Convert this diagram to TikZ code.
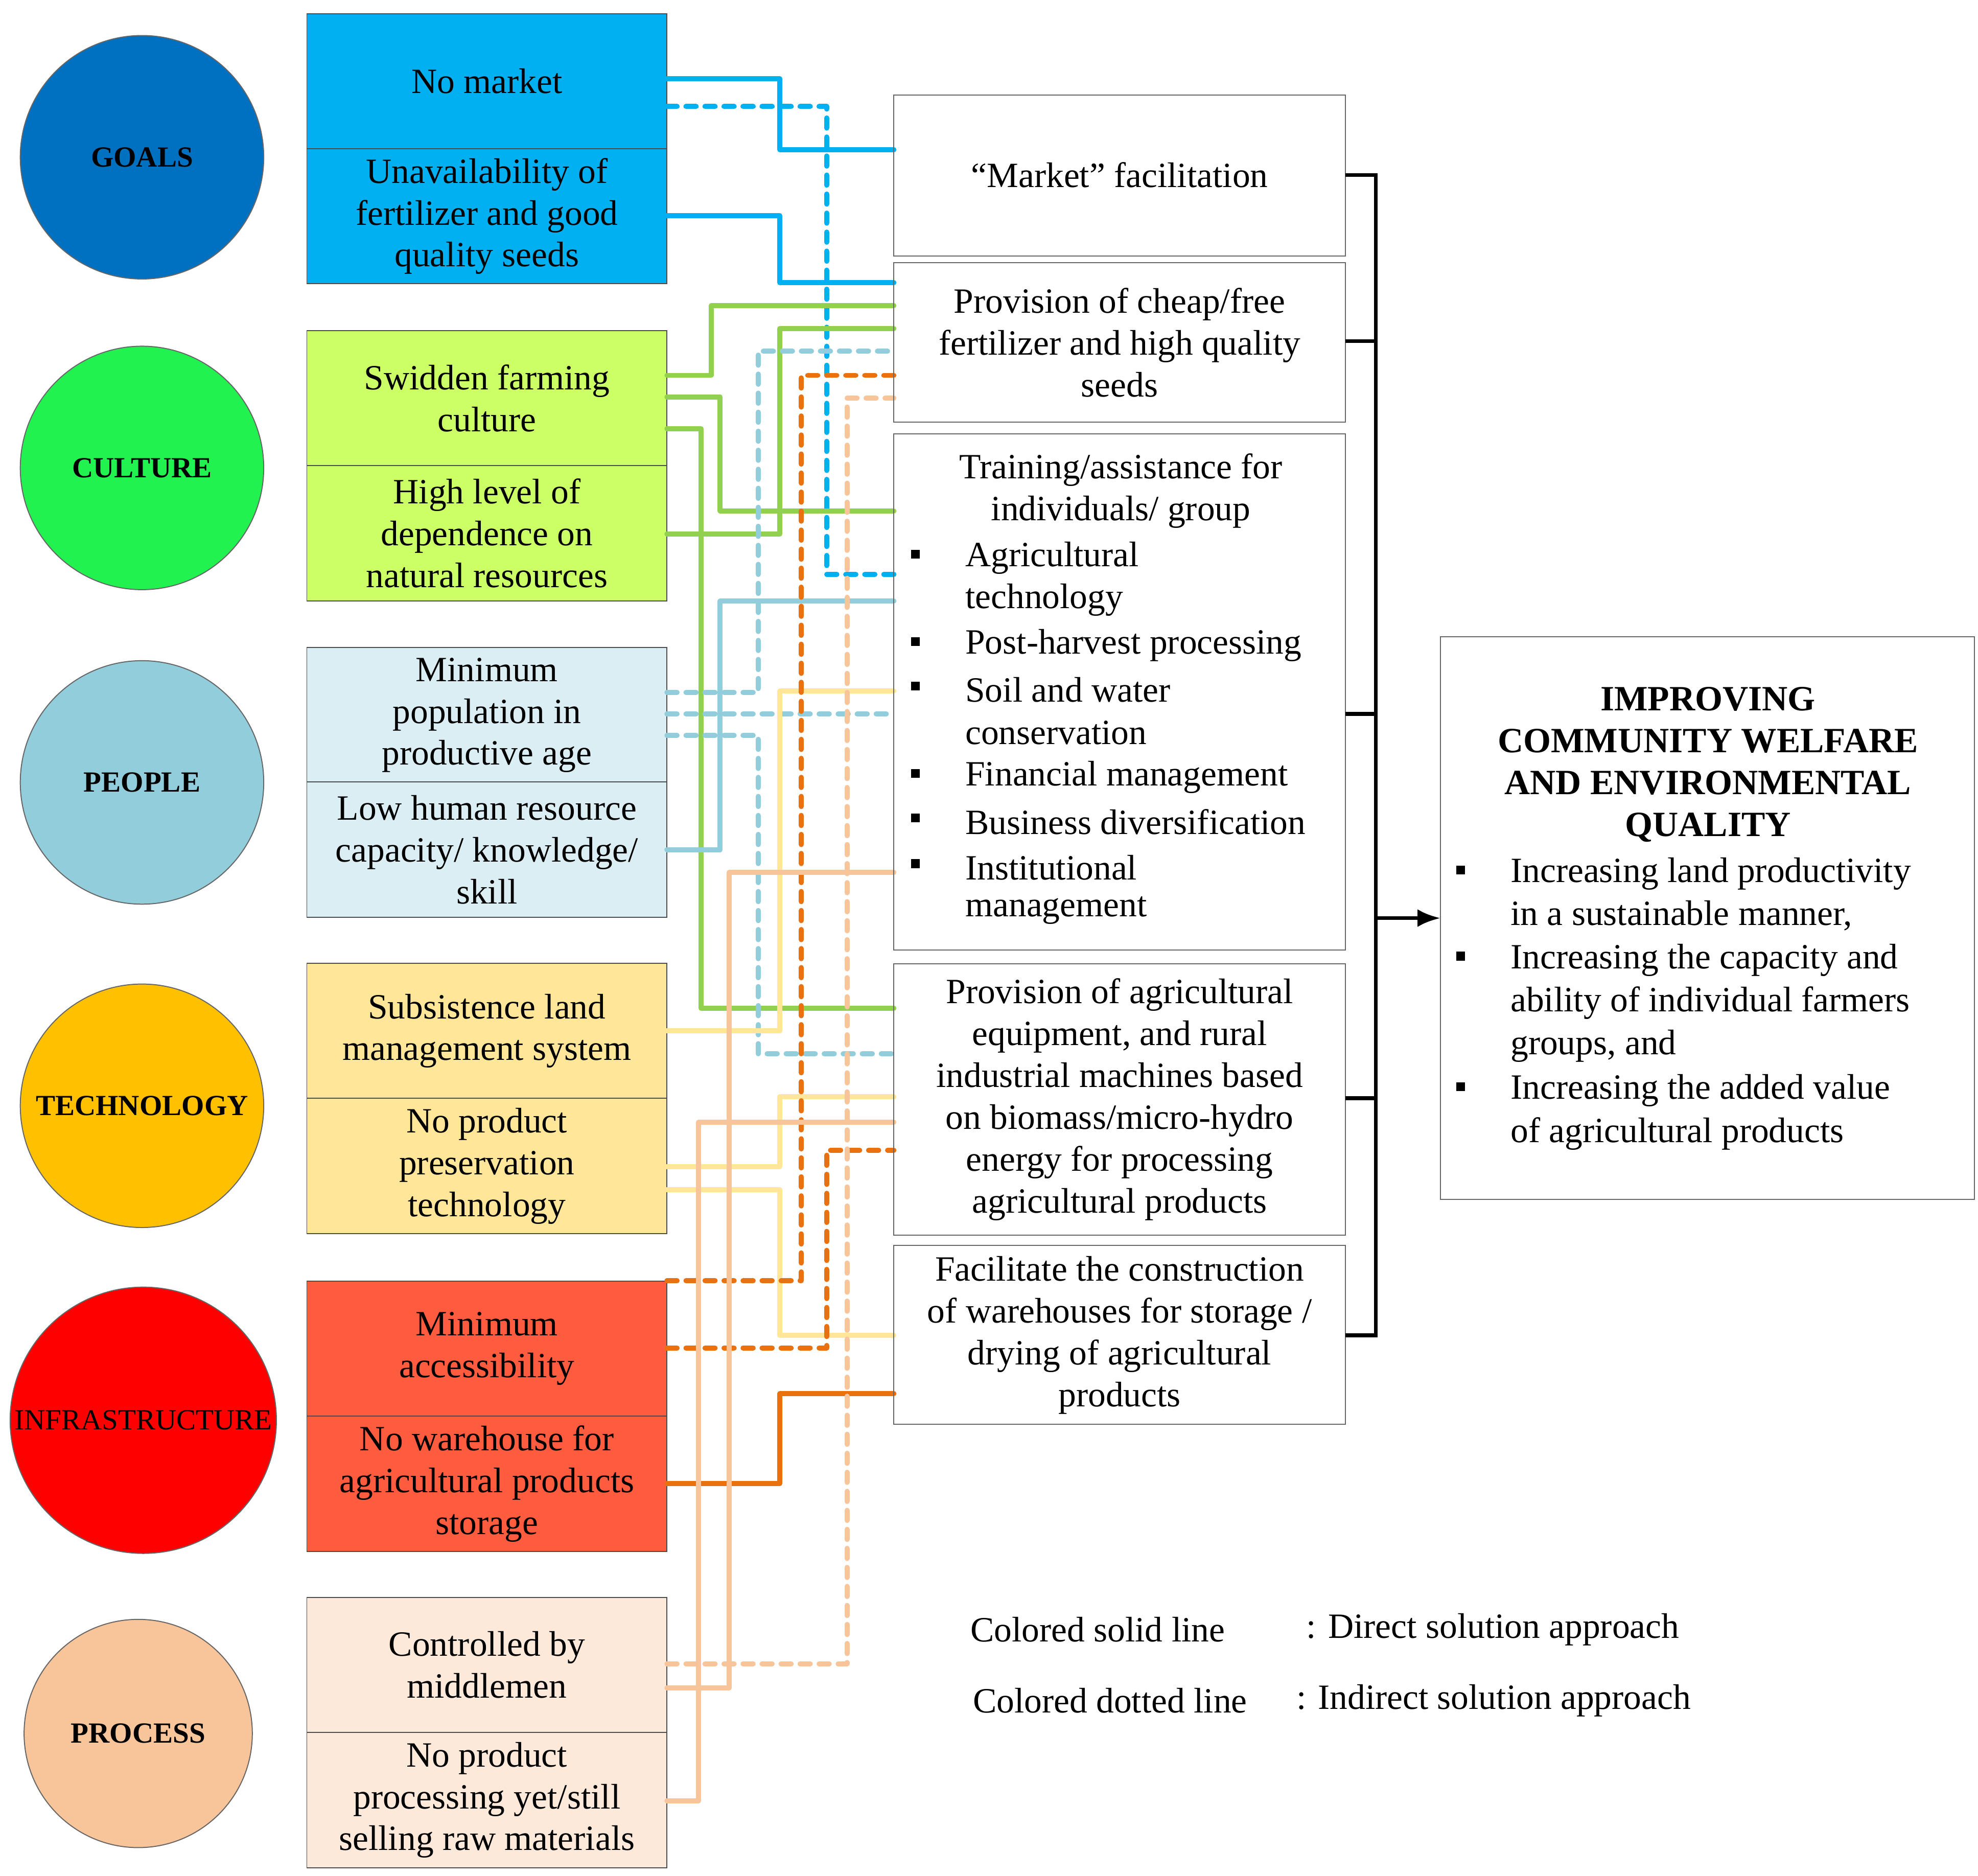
\documentclass[tikz,border=0pt]{standalone}
\usepackage{fontspec}
\setmainfont{Liberation Serif}
\usetikzlibrary{arrows.meta}
\begin{document}
\begin{tikzpicture}[x=0.5pt,y=-0.5pt,
 every node/.style={font=\fontsize{14}{16.5}\selectfont},
 lbox/.style={draw=black!70,line width=0.4pt,minimum width=142pt,minimum height=53.3pt,align=center,inner sep=0pt},
 circ/.style={circle,draw=black!60,line width=0.4pt,inner sep=0pt,font=\fontsize{11.5}{13}\selectfont\bfseries},
 mbox/.style={draw=black!60,line width=0.4pt,fill=white,minimum width=178pt,align=center,inner sep=0pt},
 sl/.style={line width=2pt,line cap=round,line join=round},
 dl/.style={line width=2pt,line cap=round,line join=round,dash pattern=on 4pt off 3.5pt},
 bul/.style={anchor=center,inner sep=0pt,minimum size=3.5pt,fill=black}]
\definecolor{cB}{HTML}{00B0F0}\definecolor{cG}{HTML}{92D050}\definecolor{cL}{HTML}{92CDDC}
\definecolor{cO}{HTML}{E9710F}\definecolor{cP}{HTML}{F8C49A}\definecolor{cY}{HTML}{FFE699}
\useasboundingbox (0,0) rectangle (1560,1479.4);
% circles
\node[circ,fill={rgb,255:red,0;green,112;blue,192},minimum size=96pt] (c1) at (112,124) {GOALS};
\node[circ,fill={rgb,255:red,34;green,242;blue,79},minimum size=96pt] (c2) at (112,369) {CULTURE};
\node[circ,fill=cL,minimum size=96pt] (c3) at (112,617) {PEOPLE};
\node[circ,fill={rgb,255:red,255;green,192;blue,0},minimum size=96pt] (c4) at (112,872) {TECHNOLOGY};
\node[circ,fill=red,minimum size=105pt,font=\fontsize{11.5}{13}\selectfont] (c5) at (113,1120) {INFRASTRUCTURE};
\node[circ,fill=cP,minimum size=90pt] (c6) at (109,1367) {PROCESS};
% left boxes
\node[lbox,fill=cB] (g1) at (384,64) {No market};
\node[lbox,fill=cB] (g2) at (384,170.5) {Unavailability of\\fertilizer and good\\quality seeds};
\node[lbox,fill={rgb,255:red,204;green,255;blue,102}] (u1) at (384,314) {Swidden farming\\culture};
\node[lbox,fill={rgb,255:red,204;green,255;blue,102}] (u2) at (384,420.5) {High level of\\dependence on\\natural resources};
\node[lbox,fill={rgb,255:red,218;green,238;blue,243}] (p1) at (384,564) {Minimum\\population in\\productive age};
\node[lbox,fill={rgb,255:red,218;green,238;blue,243}] (p2) at (384,670) {Low human resource\\capacity/ knowledge/\\skill};
\node[lbox,fill=cY] (t1) at (384,813) {Subsistence land\\management system};
\node[lbox,fill=cY] (t2) at (384,919.5) {No product\\preservation\\technology};
\node[lbox,fill={rgb,255:red,255;green,91;blue,63}] (i1) at (384,1063.5) {Minimum\\accessibility};
\node[lbox,fill={rgb,255:red,255;green,91;blue,63}] (i2) at (384,1170) {No warehouse for\\agricultural products\\storage};
\node[lbox,fill={rgb,255:red,252;green,233;blue,218}] (r1) at (384,1313) {Controlled by\\middlemen};
\node[lbox,fill={rgb,255:red,252;green,233;blue,218}] (r2) at (384,1419.5) {No product\\processing yet/still\\selling raw materials};
% connectors
\draw[sl,cB] (526,62) -- (615,62) -- (615,118) -- (705,118);
\draw[dl,cB] (526,84) -- (652,84) -- (652,453) -- (705,453);
\draw[sl,cB] (526,170) -- (615,170) -- (615,223) -- (705,223);
\draw[sl,cG] (526,296) -- (561,296) -- (561,241) -- (705,241);
\draw[sl,cG] (526,313) -- (568,313) -- (568,403) -- (705,403);
\draw[sl,cG] (526,338) -- (553,338) -- (553,795) -- (705,795);
\draw[sl,cG] (526,421) -- (615,421) -- (615,259) -- (705,259);
\draw[dl,cL] (526,546) -- (598,546) -- (598,277) -- (705,277);
\draw[dl,cL] (526,563) -- (705,563);
\draw[dl,cL] (526,580) -- (598,580) -- (598,831) -- (705,831);
\draw[sl,cL] (526,670) -- (568,670) -- (568,474) -- (705,474);
\draw[sl,cY] (526,813) -- (615,813) -- (615,545) -- (705,545);
\draw[sl,cY] (526,920) -- (615,920) -- (615,865) -- (705,865);
\draw[sl,cY] (526,938) -- (615,938) -- (615,1053) -- (705,1053);
\draw[dl,cO] (526,1010) -- (632,1010) -- (632,296) -- (705,296);
\draw[dl,cO] (526,1063) -- (652,1063) -- (652,907) -- (705,907);
\draw[sl,cO] (526,1170) -- (615,1170) -- (615,1099) -- (705,1099);
\draw[dl,cP] (526,1312) -- (668,1312) -- (668,314) -- (705,314);
\draw[sl,cP] (526,1331) -- (575,1331) -- (575,688) -- (705,688);
\draw[sl,cP] (526,1420) -- (551,1420) -- (551,885) -- (705,885);
% middle boxes
\draw[draw=black!60,line width=0.4pt] (705,75) rectangle (1061,202);
\node (m1) at (883,138) {``Market'' facilitation};
\draw[draw=black!60,line width=0.4pt] (705,207) rectangle (1061,333);
\node[align=center] (m2) at (883,270) {Provision of cheap/free\\fertilizer and high quality\\seeds};
\draw[draw=black!60,line width=0.4pt] (705,342) rectangle (1061,749);
\node (m3) at (884,387) [align=center] {Training/assistance for\\individuals/ group};
\foreach \y/\t in {440/Agricultural,473/technology,509/Post-harvest processing,544/Soil and water,578/conservation,613/Financial management,648/Business diversification,684/Institutional,718/management}
  \node[anchor=west,inner sep=0pt] at (761,\y) {\t};
\foreach \y in {440,509,544,613,648,684} \node[bul] at (722,\y-3) {};
\draw[draw=black!60,line width=0.4pt] (705,760) rectangle (1061,974);
\node[align=center] (m4) at (883,867) {Provision of agricultural\\equipment, and rural\\industrial machines based\\on biomass/micro-hydro\\energy for processing\\agricultural products};
\draw[draw=black!60,line width=0.4pt] (705,982) rectangle (1061,1123);
\node[align=center] (m5) at (883,1053) {Facilitate the construction\\of warehouses for storage /\\drying of agricultural\\products};
% bracket
\draw[line width=1.5pt] (1061,138) -- (1085,138) -- (1085,1053) -- (1061,1053);
\foreach \y in {269,563,866} \draw[line width=1.5pt] (1061,\y) -- (1085,\y);
\draw[line width=1.5pt,-{Latex[length=9pt,width=7pt]}] (1085,724) -- (1136,724);
% right box
\draw[draw=black!60,line width=0.4pt] (1136,502) rectangle (1557,946);
\node[align=center,font=\fontsize{14}{16.5}\selectfont\bfseries] (out) at (1347,603) {IMPROVING\\COMMUNITY WELFARE\\AND ENVIRONMENTAL\\QUALITY};
\foreach \y/\t in {689/Increasing land productivity,722/in a sustainable manner{,},757/Increasing the capacity and,791/ability of individual farmers/,825/{groups, and},860/Increasing the added value,894/of agricultural products}
  \node[anchor=west,inner sep=0pt] at (1191,\y) {\t};
\foreach \y in {689,757,860} \node[bul] at (1152,\y-3) {};
% legend
\node[anchor=west,inner sep=0pt] at (765,1285) {Colored solid line};
\node[anchor=west,inner sep=0pt] at (1030,1285) {: Direct solution approach};
\node[anchor=west,inner sep=0pt] at (767,1341) {Colored dotted line};
\node[anchor=west,inner sep=0pt] at (1022,1341) {: Indirect solution approach};
\end{tikzpicture}
\end{document}
